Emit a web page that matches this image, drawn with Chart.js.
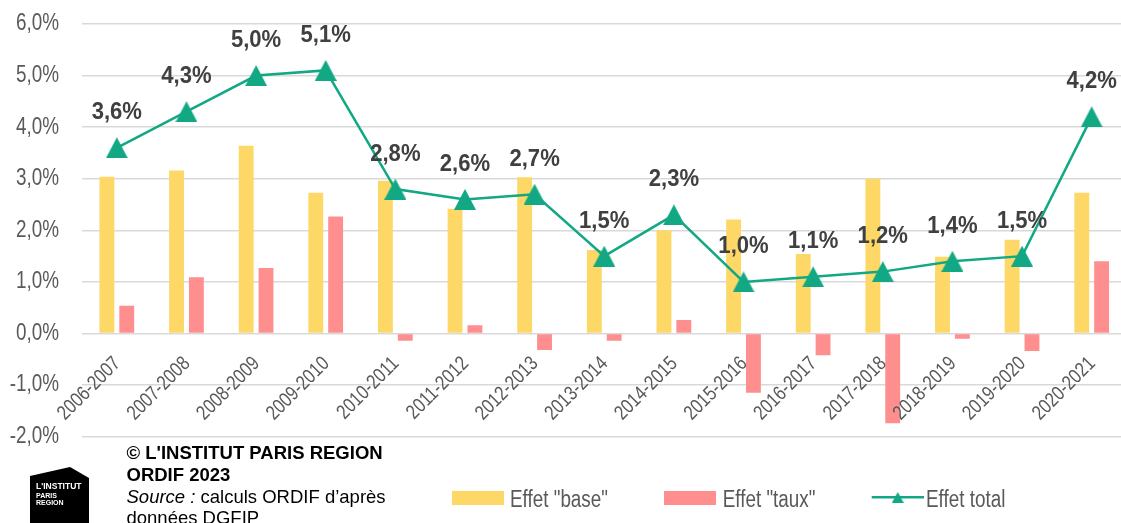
<!DOCTYPE html>
<html><head><meta charset="utf-8">
<script src="https://cdn.jsdelivr.net/npm/chart.js@4.4.1/dist/chart.umd.min.js"></script>
<style>html,body{margin:0;padding:0;background:#fff;overflow:hidden;}#wrap{width:1127px;height:523px;}</style>
</head><body><div id="wrap"><canvas id="c" width="1127" height="523"></canvas></div>
<script>
const categories = ['2006-2007','2007-2008','2008-2009','2009-2010','2010-2011','2011-2012','2012-2013','2013-2014','2014-2015','2015-2016','2016-2017','2017-2018','2018-2019','2019-2020','2020-2021'];
const effetBase  = [3.04, 3.16, 3.64, 2.73, 2.96, 2.42, 3.03, 1.62, 2.00, 2.21, 1.54, 3.00, 1.49, 1.82, 2.73];
const effetTaux  = [0.54, 1.09, 1.27, 2.27, -0.14, 0.16, -0.32, -0.14, 0.26, -1.15, -0.42, -1.74, -0.10, -0.34, 1.40];
const effetTotal = [3.6, 4.3, 5.0, 5.1, 2.8, 2.6, 2.7, 1.5, 2.3, 1.0, 1.1, 1.2, 1.4, 1.5, 4.2];
const seriesNames = ['Effet "base"', 'Effet "taux"', 'Effet total'];
const yMin = -2, yMax = 6, yStep = 1;

const YELLOW = '#FDD866', PINK = '#FF8F8F', TEAL = '#12A884';
const SANS = "'Liberation Sans', Arial, sans-serif";
const NARROW_SCALE = 0.82;
const fmt = v => v.toFixed(1).replace('.', ',') + '%';

function makeTriangle(w, h, color) {
  const c = document.createElement('canvas');
  c.width = w; c.height = h;
  const g = c.getContext('2d');
  g.fillStyle = color;
  g.beginPath(); g.moveTo(w / 2, 0); g.lineTo(w, h); g.lineTo(0, h); g.closePath(); g.fill();
  return c;
}
const tri = makeTriangle(22, 21, TEAL);

// text in a narrow face (Arial Narrow look): regular face squeezed horizontally
function narrowText(ctx, text, x, y, align, baseline, rot) {
  ctx.save();
  ctx.translate(x, y);
  if (rot) ctx.rotate(rot);
  ctx.scale(NARROW_SCALE, 1);
  ctx.textAlign = align; ctx.textBaseline = baseline;
  ctx.fillText(text, 0, 0);
  ctx.restore();
}

const axisLabelsPlugin = {
  id: 'axisLabels',
  afterDatasetsDraw(chart) {
    const ctx = chart.ctx;
    const xs = chart.scales.x, ys = chart.scales.y;
    ctx.save();
    ctx.fillStyle = '#595959';
    ctx.font = '23px ' + SANS;
    ys.ticks.forEach((t, i) => {
      narrowText(ctx, fmt(t.value), ys.right - 23, ys.getPixelForTick(i), 'right', 'middle');
    });
    const y0 = ys.getPixelForValue(0);
    ctx.font = '20.3px ' + SANS;
    xs.ticks.forEach((t, i) => {
      const cx = xs.getPixelForTick(i);
      narrowText(ctx, chart.data.labels[i], cx + 4.5, y0 + 31, 'right', 'alphabetic', -Math.PI / 4);
    });
    ctx.restore();
  }
};

const labelsPlugin = {
  id: 'totLabels',
  afterDraw(chart) {
    const ctx = chart.ctx;
    const meta = chart.getDatasetMeta(2);
    ctx.save();
    ctx.font = 'bold 23px ' + SANS;
    ctx.fillStyle = '#404040';
    meta.data.forEach((pt, i) => {
      ctx.save();
      ctx.translate(pt.x, pt.y - 28.5);
      ctx.scale(0.96, 1);
      ctx.textAlign = 'center'; ctx.textBaseline = 'alphabetic';
      ctx.fillText(fmt(chart.data.datasets[2].data[i]), 0, 0);
      ctx.restore();
    });
    ctx.restore();
  }
};

const footerPlugin = {
  id: 'footer',
  afterDraw(chart) {
    const ctx = chart.ctx;
    ctx.save();
    // logo
    ctx.fillStyle = '#000';
    ctx.beginPath();
    ctx.moveTo(30, 476); ctx.lineTo(70, 467); ctx.lineTo(89, 478); ctx.lineTo(89, 523); ctx.lineTo(30, 523); ctx.closePath();
    ctx.fill();
    ctx.fillStyle = '#fff';
    ctx.textAlign = 'left'; ctx.textBaseline = 'alphabetic';
    ctx.font = 'bold 8.5px ' + SANS;
    ctx.fillText("L'INSTITUT", 36, 489);
    ctx.font = 'bold 7px ' + SANS;
    ctx.fillText('PARIS', 36, 498);
    ctx.fillText('REGION', 36, 505);
    // source text
    ctx.fillStyle = '#000';
    ctx.font = 'bold 18.5px ' + SANS;
    ctx.fillText("© L'INSTITUT PARIS REGION", 126.5, 459);
    ctx.fillText('ORDIF 2023', 126.5, 481);
    ctx.font = 'italic 18.5px ' + SANS;
    ctx.fillText('Source :', 126.5, 502.5);
    const w = ctx.measureText('Source :').width;
    ctx.font = '18.5px ' + SANS;
    ctx.fillText(' calculs ORDIF d\u2019après', 126.5 + w, 502.5);
    ctx.fillText('données DGFIP', 126.5, 524);
    // legend
    const ds = chart.data.datasets;
    ctx.font = '23px ' + SANS;
    const items = [[452, 510], [664, 722.7], [871.7, 926]];
    items.forEach((it, i) => {
      const [x0, tx] = it;
      if (i < 2) {
        ctx.fillStyle = ds[i].backgroundColor;
        ctx.fillRect(x0, 491, 52, 14);
      } else {
        ctx.strokeStyle = ds[i].borderColor; ctx.lineWidth = 2.5;
        ctx.beginPath(); ctx.moveTo(x0, 497.3); ctx.lineTo(x0 + 52.3, 497.3); ctx.stroke();
        ctx.drawImage(makeTriangle(12, 11, ds[i].borderColor), x0 + 26 - 6, 492);
      }
      ctx.fillStyle = '#595959';
      narrowText(ctx, ds[i].label, tx, 506.5, 'left', 'alphabetic');
    });
    ctx.restore();
  }
};

new Chart(document.getElementById('c'), {
  data: {
    labels: categories,
    datasets: [
      { type: 'bar', label: seriesNames[0], data: effetBase, backgroundColor: YELLOW, order: 1, categoryPercentage: 0.57, barPercentage: 0.75 },
      { type: 'bar', label: seriesNames[1], data: effetTaux, backgroundColor: PINK, order: 2, categoryPercentage: 0.57, barPercentage: 0.75 },
      { type: 'line', label: seriesNames[2], data: effetTotal, borderColor: TEAL, backgroundColor: TEAL, borderWidth: 2.5,
        pointStyle: tri, pointRadius: 11, pointHoverRadius: 11, tension: 0, order: 0, clip: false }
    ]
  },
  options: {
    responsive: false,
    animation: false,
    devicePixelRatio: 1,
    layout: { autoPadding: false, padding: { left: 0, right: 0.5, top: 24, bottom: 86.3 } },
    plugins: { legend: { display: false }, tooltip: { enabled: false } },
    scales: {
      x: {
        position: { y: 0 },
        grid: { display: false, drawTicks: false },
        border: { display: false },
        ticks: { display: false, maxRotation: 0, minRotation: 0 }
      },
      y: {
        min: yMin, max: yMax,
        afterFit: s => { s.width = 82; },
        grid: { color: '#D9D9D9', lineWidth: 1.5, drawTicks: false },
        border: { display: false },
        ticks: { display: false, stepSize: yStep, callback: v => fmt(v) }
      }
    }
  },
  plugins: [axisLabelsPlugin, labelsPlugin, footerPlugin]
});
</script></body></html>
